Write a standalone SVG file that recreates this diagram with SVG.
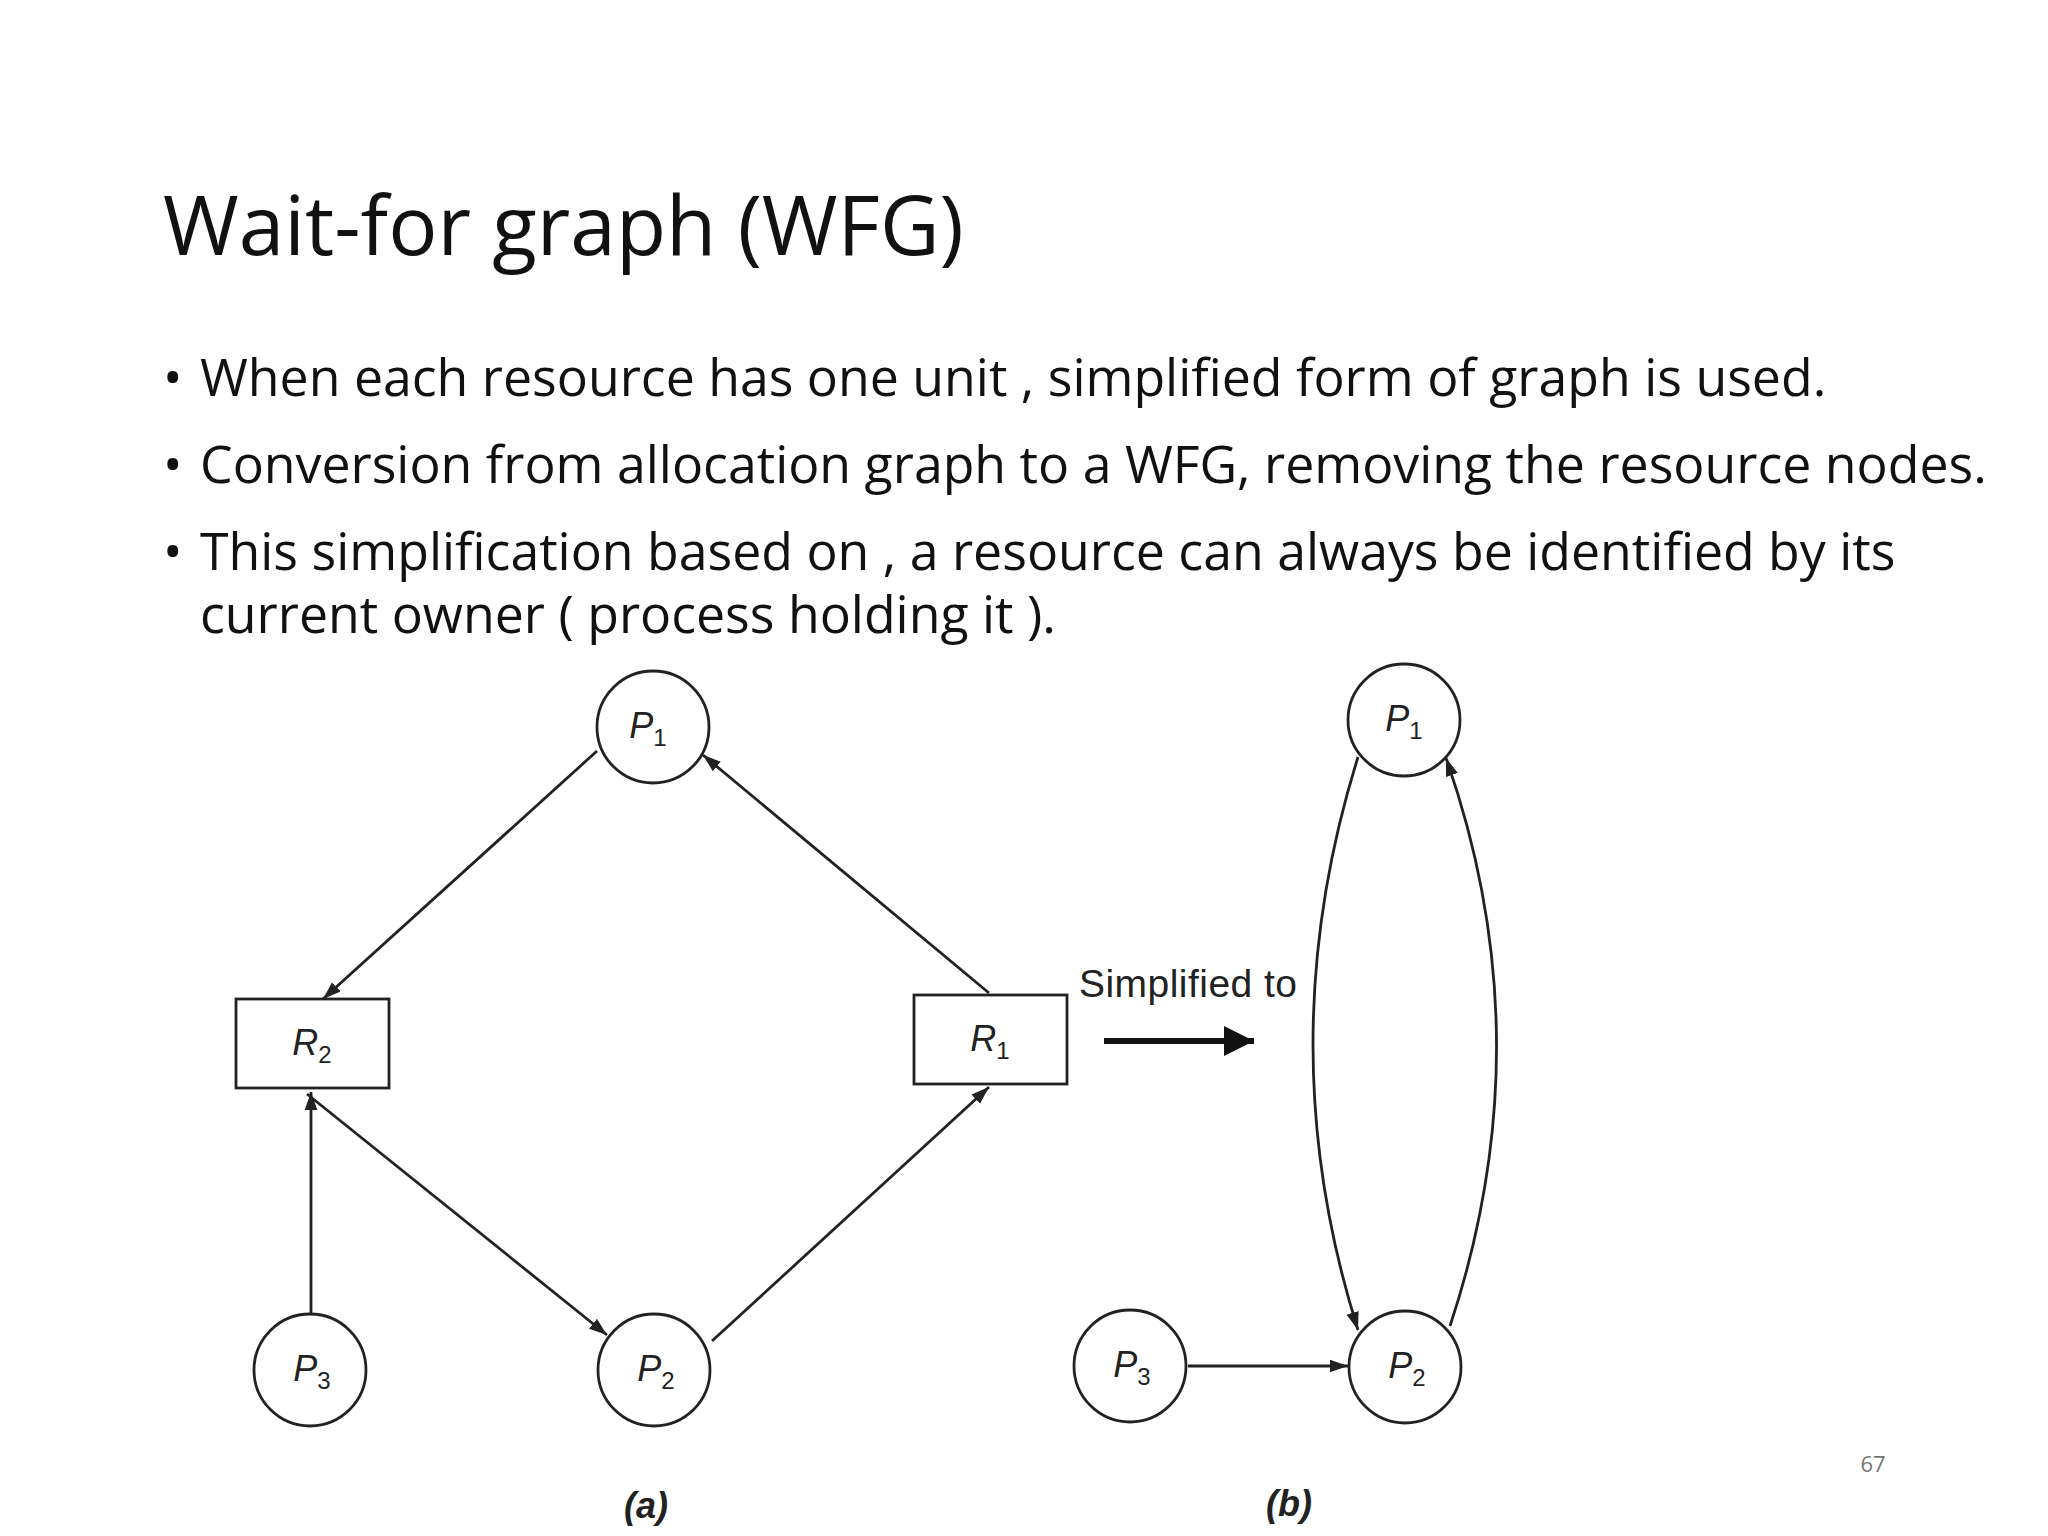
<svg xmlns="http://www.w3.org/2000/svg" width="2048" height="1536" viewBox="0 0 2048 1536">
<style>
.t{font-family:"Open Sans","Noto Sans",sans-serif;fill:#111}
.n{fill:#fff;stroke:#222;stroke-width:2.8}
.l{font-family:"Liberation Sans",Arial,sans-serif;font-style:italic;font-size:36px;fill:#222;text-anchor:middle}
.s{font-size:24px;font-style:normal}
.e{fill:none;stroke:#222;stroke-width:2.8;marker-end:url(#a)}
</style>
<defs><marker id="a" viewBox="0 0 10 10" refX="10" refY="5" markerWidth="18" markerHeight="18" orient="auto" markerUnits="userSpaceOnUse"><path d="M0,1.5 L10,5 L0,8.5 z" fill="#222"/></marker>
<marker id="b" viewBox="0 0 10 10" refX="10" refY="5" markerWidth="30" markerHeight="30" orient="auto" markerUnits="userSpaceOnUse"><path d="M0,0 L10,5 L0,10 z" fill="#111"/></marker></defs>
<rect width="2048" height="1536" fill="#fff"/>
<text class="t" x="163" y="255" font-size="82">Wait-for graph (WFG)</text>
<g class="t" font-size="51.8">
<text x="163" y="396">•</text><text x="200" y="396">When each resource has one unit , simplified form of graph is used.</text>
<text x="163" y="483">•</text><text x="200" y="483">Conversion from allocation graph to a WFG, removing the resource nodes.</text>
<text x="163" y="570">•</text><text x="200" y="570">This simplification based on , a resource can always be identified by its</text>
<text x="200" y="633">current owner ( process holding it ).</text>
</g>
<g id="connectors">
<path class="e" d="M597,751 L323,999"/>
<path class="e" d="M989,993 L703,755"/>
<path class="e" d="M311,1313 L311,1092"/>
<path class="e" d="M307,1094 L607,1335"/>
<path class="e" d="M712,1341 L989,1087"/>
<path class="e" d="M1358,757 Q1268,1045 1358,1330"/>
<path class="e" d="M1450,1326 Q1545,1040 1446,758"/>
<path class="e" d="M1188,1366 L1348,1366"/>
<path d="M1104,1041 L1254,1041" stroke="#111" stroke-width="6" marker-end="url(#b)"/>
</g>
<g id="P1a"><circle class="n" cx="653" cy="727" r="56"/><text class="l" x="648" y="738">P<tspan class="s" dy="8">1</tspan></text></g>
<g id="R2"><rect class="n" x="236" y="999" width="153" height="89"/><text class="l" x="312" y="1055">R<tspan class="s" dy="8">2</tspan></text></g>
<g id="R1"><rect class="n" x="914" y="995" width="153" height="89"/><text class="l" x="990" y="1051">R<tspan class="s" dy="8">1</tspan></text></g>
<g id="P3a"><circle class="n" cx="310" cy="1370" r="56"/><text class="l" x="312" y="1381">P<tspan class="s" dy="8">3</tspan></text></g>
<g id="P2a"><circle class="n" cx="654" cy="1370" r="56"/><text class="l" x="656" y="1381">P<tspan class="s" dy="8">2</tspan></text></g>
<g id="P1b"><circle class="n" cx="1404" cy="720" r="56"/><text class="l" x="1404" y="731">P<tspan class="s" dy="8">1</tspan></text></g>
<g id="P2b"><circle class="n" cx="1405" cy="1367" r="56"/><text class="l" x="1407" y="1378">P<tspan class="s" dy="8">2</tspan></text></g>
<g id="P3b"><circle class="n" cx="1130" cy="1366" r="56"/><text class="l" x="1132" y="1377">P<tspan class="s" dy="8">3</tspan></text></g>
<text x="1079" y="997" font-family="Liberation Sans,Arial,sans-serif" font-size="39" fill="#222" textLength="218">Simplified to</text>
<text class="l" x="646" y="1518" font-weight="bold" font-size="34">(a)</text>
<text class="l" x="1289" y="1516" font-weight="bold" font-size="34">(b)</text>
<text x="1873" y="1472" font-family="Open Sans,sans-serif" font-size="22" fill="#777" text-anchor="middle">67</text>
</svg>
